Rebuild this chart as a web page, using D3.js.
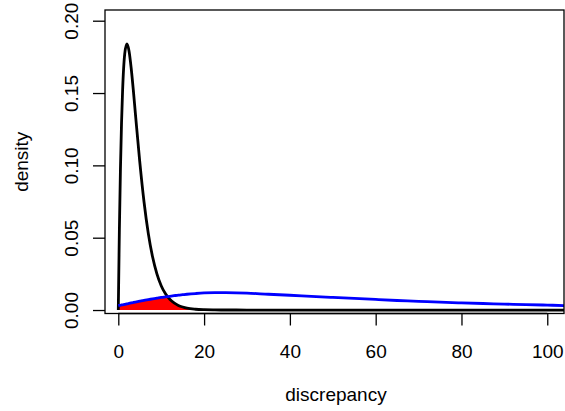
<!DOCTYPE html>
<html>
<head>
<meta charset="utf-8">
<script src="https://cdn.jsdelivr.net/npm/d3@7"></script>
<style>
  html, body { margin: 0; padding: 0; background: #fff; }
  svg { display: block; }
  text { font-family: "Liberation Sans", Arial, Helvetica, sans-serif; }
</style>
</head>
<body>
<svg id="chart" width="565" height="411"></svg>
<script>
// ---- data ----
const discrepancy = [0, 0.25, 0.5, 0.75, 1, 1.5, 2, 2.5, 3, 3.5, 4, 5, 6, 7, 8, 9, 10, 11, 12, 13, 14, 15, 16, 18, 20, 22.5, 25, 30, 35, 40, 45, 50, 55, 60, 65, 70, 75, 80, 85, 90, 95, 100, 104];
const densityBlack = [0, 0.0552, 0.0974, 0.1289, 0.1516, 0.1771, 0.1839, 0.1791, 0.1673, 0.1521, 0.1353, 0.1026, 0.0747, 0.0528, 0.0366, 0.0250, 0.0168, 0.0112, 0.0074, 0.0049, 0.0032, 0.0021, 0.0013, 0.00055, 0.00023, 0.00008, 0.00002, 0, 0, 0, 0, 0, 0, 0, 0, 0, 0, 0, 0, 0, 0, 0, 0];
const densityBlue = [0.0030, 0.0032, 0.0033, 0.0035, 0.0036, 0.0039, 0.0043, 0.0046, 0.0049, 0.0052, 0.0055, 0.0061, 0.0067, 0.0072, 0.0077, 0.0082, 0.0087, 0.0091, 0.0095, 0.0099, 0.0103, 0.0106, 0.0109, 0.0114, 0.0118, 0.0120, 0.0120, 0.0117, 0.0109, 0.0102, 0.0094, 0.0087, 0.0080, 0.0073, 0.0066, 0.0060, 0.0054, 0.0049, 0.0045, 0.0041, 0.0037, 0.0034, 0.0031];
const xTicks = [0, 20, 40, 60, 80, 100];
const yTicks = [0, 0.05, 0.10, 0.15, 0.20];
const xLabel = "discrepancy";
const yLabel = "density";

// ---- layout ----
const plot = { left: 105, right: 564, top: 10, bottom: 313.5 };
const fontSize = 19;
const svg = d3.select("#chart");

const x = d3.scaleLinear().domain([-3.1, 103.9]).range([plot.left, plot.right]);
const y = d3.scaleLinear().domain([-0.0024, 0.2074]).range([plot.bottom, plot.top]);

svg.append("defs").append("clipPath").attr("id", "clip")
  .append("rect")
  .attr("x", plot.left).attr("y", plot.top)
  .attr("width", plot.right - plot.left).attr("height", plot.bottom - plot.top);

const rows = discrepancy.map((d, i) => ({ x: d, black: densityBlack[i], blue: densityBlue[i] }));

const g = svg.append("g").attr("clip-path", "url(#clip)");

// red overlap area
const overlap = rows.filter(r => r.x <= 18);
g.append("path")
  .datum(overlap)
  .attr("fill", "#ff0000")
  .attr("d", d3.area()
    .x(d => x(d.x))
    .y0(y(0))
    .y1(d => y(Math.min(d.black, d.blue))));

g.append("path")
  .datum(rows)
  .attr("fill", "none")
  .attr("stroke", "#000")
  .attr("stroke-width", 2.8)
  .attr("stroke-linejoin", "round")
  .attr("d", d3.line().x(d => x(d.x)).y(d => y(d.black)).curve(d3.curveMonotoneX));

g.append("path")
  .datum(rows)
  .attr("fill", "none")
  .attr("stroke", "#0000ff")
  .attr("stroke-width", 2.8)
  .attr("stroke-linejoin", "round")
  .attr("d", d3.line().x(d => x(d.x)).y(d => y(d.blue)).curve(d3.curveMonotoneX));

// box
svg.append("rect")
  .attr("x", plot.left).attr("y", plot.top)
  .attr("width", plot.right - plot.left).attr("height", plot.bottom - plot.top)
  .attr("fill", "none").attr("stroke", "#000").attr("stroke-width", 1.3);

// x axis
const xAxis = svg.append("g")
  .attr("transform", `translate(0,${plot.bottom})`)
  .call(d3.axisBottom(x).tickValues(xTicks).tickSize(12).tickSizeOuter(0).tickFormat(d3.format("d")));
xAxis.select(".domain").remove();
xAxis.selectAll(".tick line").attr("stroke", "#000").attr("stroke-width", 1.3);
xAxis.selectAll(".tick text")
  .attr("y", 44).attr("dy", null)
  .attr("font-size", fontSize).attr("fill", "#000")
  .attr("font-family", "'Liberation Sans', Arial, Helvetica, sans-serif");
svg.append("line")
  .attr("x1", x(xTicks[0])).attr("x2", x(xTicks[xTicks.length - 1]))
  .attr("y1", plot.bottom).attr("y2", plot.bottom)
  .attr("stroke", "#000").attr("stroke-width", 1.3);

// y axis
const yAxis = svg.append("g")
  .attr("transform", `translate(${plot.left},0)`)
  .call(d3.axisLeft(y).tickValues(yTicks).tickSize(12).tickSizeOuter(0).tickFormat(d3.format(".2f")));
yAxis.select(".domain").remove();
yAxis.selectAll(".tick line").attr("stroke", "#000").attr("stroke-width", 1.3);
yAxis.selectAll(".tick text")
  .attr("x", null).attr("dy", "0.35em")
  .attr("transform", "translate(-34,0) rotate(-90)")
  .attr("text-anchor", "middle")
  .attr("font-size", fontSize).attr("fill", "#000")
  .attr("font-family", "'Liberation Sans', Arial, Helvetica, sans-serif");

// axis titles
svg.append("text")
  .attr("x", 336).attr("y", 401)
  .attr("text-anchor", "middle").attr("font-size", fontSize).attr("fill", "#000")
  .text(xLabel);
svg.append("text")
  .attr("transform", `translate(28,${(plot.top + plot.bottom) / 2}) rotate(-90)`)
  .attr("text-anchor", "middle").attr("font-size", fontSize).attr("fill", "#000")
  .text(yLabel);
</script>
</body>
</html>
